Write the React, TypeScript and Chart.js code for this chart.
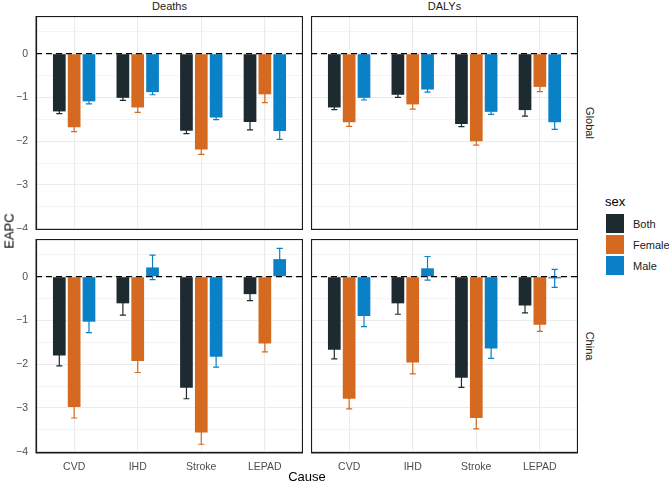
import React, { useEffect, useRef } from 'react';
import { Chart, registerables } from 'chart.js';

Chart.register(...registerables);

// ---------- data ----------
const causes = ['CVD', 'IHD', 'Stroke', 'LEPAD'];
const sexes = ['Both', 'Female', 'Male'];
const sexColors = ['#1D2B31', '#D4691F', '#0A80C6'];
const yTickValues = [-4, -3.5, -3, -2.5, -2, -1.5, -1, -0.5, 0, 0.5];

// Global – Deaths (EAPC and half-width of 95% CI)
const globalDeathsBoth = [-1.32, -1.01, -1.76, -1.56];
const globalDeathsBothErr = [0.05, 0.06, 0.07, 0.18];
const globalDeathsFemale = [-1.68, -1.23, -2.19, -0.93];
const globalDeathsFemaleErr = [0.1, 0.11, 0.11, 0.19];
const globalDeathsMale = [-1.09, -0.88, -1.46, -1.77];
const globalDeathsMaleErr = [0.06, 0.06, 0.05, 0.19];

// Global – DALYs
const globalDalysBoth = [-1.23, -0.94, -1.61, -1.29];
const globalDalysBothErr = [0.05, 0.06, 0.06, 0.14];
const globalDalysFemale = [-1.57, -1.16, -2.0, -0.76];
const globalDalysFemaleErr = [0.09, 0.11, 0.09, 0.11];
const globalDalysMale = [-1.01, -0.82, -1.33, -1.57];
const globalDalysMaleErr = [0.05, 0.06, 0.06, 0.16];

// China – Deaths
const chinaDeathsBoth = [-1.8, -0.61, -2.54, -0.4];
const chinaDeathsBothErr = [0.24, 0.27, 0.25, 0.15];
const chinaDeathsFemale = [-2.98, -1.93, -3.56, -1.53];
const chinaDeathsFemaleErr = [0.25, 0.26, 0.27, 0.19];
const chinaDeathsMale = [-1.03, 0.21, -1.83, 0.4];
const chinaDeathsMaleErr = [0.25, 0.28, 0.24, 0.245];

// China – DALYs
const chinaDalysBoth = [-1.67, -0.61, -2.31, -0.66];
const chinaDalysBothErr = [0.21, 0.25, 0.22, 0.17];
const chinaDalysFemale = [-2.79, -1.96, -3.23, -1.1];
const chinaDalysFemaleErr = [0.23, 0.26, 0.25, 0.15];
const chinaDalysMale = [-0.9, 0.19, -1.64, -0.04];
const chinaDalysMaleErr = [0.24, 0.27, 0.23, 0.205];

// ---------- layout constants ----------
const Y_MIN = -4.03;
const Y_MAX = 0.86;
const FONT = '"Liberation Sans", Arial, Helvetica, sans-serif';
const GRID = '#EBEBEB';
const TICK_COLOR = '#4D4D4D';

const PLOT_W = 267;
const PLOT_H = 214;
const COL_LEFT = [36, 311];
const ROW_TOP = [16, 239];
const Y_AXIS_W = 36;
const X_AXIS_H = 22;

type PanelProps = {
  values: number[][];
  errs: number[][];
  col: number;
  row: number;
};

function fmtTick(v: number) {
  if (!Number.isInteger(v)) return '';
  return v < 0 ? '\u2212' + Math.abs(v) : String(v);
}

function zeroPad(a: any) {
  a.paddingTop = 0;
  a.paddingBottom = 0;
  a.paddingLeft = 0;
  a.paddingRight = 0;
}

function Panel({ values, errs, col, row }: PanelProps) {
  const ref = useRef<HTMLCanvasElement>(null);
  const showY = col === 0;
  const showX = row === 1;
  const axisW = showY ? Y_AXIS_W : 0;
  const axisH = showX ? X_AXIS_H : 0;
  const cw = PLOT_W + axisW;
  const ch = PLOT_H + axisH;
  const left = COL_LEFT[col] - axisW;
  const top = ROW_TOP[row];

  useEffect(() => {
    const panelPlugin = {
      id: 'panelDecor',
      beforeDatasetsDraw(chart: any) {
        const ctx = chart.ctx;
        const ys = chart.scales.y;
        ctx.save();
        chart.data.datasets.forEach((ds: any, di: number) => {
          const meta = chart.getDatasetMeta(di);
          meta.data.forEach((bar: any, i: number) => {
            const v = values[di][i];
            const e = errs[di][i];
            const x = bar.x;
            const y1 = ys.getPixelForValue(v - e);
            const y2 = ys.getPixelForValue(v + e);
            const half = bar.width * 0.24;
            ctx.strokeStyle = sexColors[di];
            ctx.lineWidth = 1.2;
            ctx.beginPath();
            ctx.moveTo(x, y1);
            ctx.lineTo(x, y2);
            ctx.moveTo(x - half, y1);
            ctx.lineTo(x + half, y1);
            ctx.moveTo(x - half, y2);
            ctx.lineTo(x + half, y2);
            ctx.stroke();
          });
        });
        ctx.restore();
      },
      afterDatasetsDraw(chart: any) {
        const ctx = chart.ctx;
        const a = chart.chartArea;
        const y0 = chart.scales.y.getPixelForValue(0);
        ctx.save();
        ctx.strokeStyle = '#000';
        ctx.lineWidth = 1.3;
        ctx.setLineDash([6, 4]);
        ctx.beginPath();
        ctx.moveTo(a.left, y0);
        ctx.lineTo(a.right, y0);
        ctx.stroke();
        ctx.setLineDash([]);
        ctx.strokeStyle = '#1A1A1A';
        ctx.lineWidth = 1.6;
        ctx.strokeRect(a.left + 0.3, a.top + 0.3, a.right - a.left - 0.6, a.bottom - a.top - 0.6);
        ctx.restore();
      },
    };

    const chart = new Chart(ref.current as HTMLCanvasElement, {
      type: 'bar',
      data: {
        datasets: sexes.map((s, k) => ({
          label: s,
          data: values[k].map((v, i) => ({ x: i + 1, y: v })),
          backgroundColor: sexColors[k],
          borderWidth: 0,
          categoryPercentage: 0.7,
          barPercentage: 0.857,
        })),
      } as any,
      options: {
        responsive: false,
        maintainAspectRatio: false,
        animation: false,
        layout: { padding: 0 },
        plugins: {
          legend: { display: false },
          tooltip: { enabled: false },
        },
        scales: {
          x: {
            type: 'linear',
            min: 0.4,
            max: 4.6,
            offset: false,
            afterBuildTicks: (a: any) => {
              a.ticks = causes.map((_, i) => ({ value: i + 1 }));
            },
            afterFit: (a: any) => {
              a.height = axisH;
              zeroPad(a);
            },
            grid: { color: GRID, lineWidth: 1.1, drawTicks: false, offset: false },
            border: { display: false },
            ticks: {
              display: showX,
              autoSkip: false,
              maxRotation: 0,
              padding: 7.5,
              color: TICK_COLOR,
              font: { family: FONT, size: 10.5 },
              callback: (v: any) => causes[Math.round(Number(v)) - 1] ?? '',
            },
          },
          y: {
            type: 'linear',
            min: Y_MIN,
            max: Y_MAX,
            afterBuildTicks: (a: any) => {
              a.ticks = yTickValues.map((value) => ({ value }));
            },
            afterFit: (a: any) => {
              a.width = axisW;
              zeroPad(a);
            },
            grid: {
              color: GRID,
              lineWidth: (c: any) => (Number.isInteger(c.tick?.value) ? 1.1 : 0.55),
              drawTicks: false,
            },
            border: { display: false },
            ticks: {
              display: showY,
              autoSkip: false,
              padding: 8,
              color: TICK_COLOR,
              font: { family: FONT, size: 10.5 },
              callback: (v: any) => fmtTick(Number(v)),
            },
          },
        },
      } as any,
      plugins: [panelPlugin],
    });
    return () => chart.destroy();
  }, []);

  return (
    <canvas
      ref={ref}
      width={cw}
      height={ch}
      style={{ position: 'absolute', left, top, width: cw, height: ch }}
    />
  );
}

type TextProps = {
  x: number;
  y: number;
  text: string;
  size: number;
  color?: string;
  rotate?: number;
  align?: 'center' | 'left';
};

function Label({ x, y, text, size, color = '#1A1A1A', rotate = 0, align = 'center' }: TextProps) {
  const tx = align === 'center' ? '-50%' : '0';
  return (
    <div
      style={{
        position: 'absolute',
        left: x,
        top: y,
        transform: `translate(${tx}, -50%) rotate(${rotate}deg)`,
        fontFamily: FONT,
        fontSize: size,
        color,
        whiteSpace: 'nowrap',
        lineHeight: 1,
      }}
    >
      {text}
    </div>
  );
}

export default function App() {
  const panels = [
    {
      col: 0,
      row: 0,
      values: [globalDeathsBoth, globalDeathsFemale, globalDeathsMale],
      errs: [globalDeathsBothErr, globalDeathsFemaleErr, globalDeathsMaleErr],
    },
    {
      col: 1,
      row: 0,
      values: [globalDalysBoth, globalDalysFemale, globalDalysMale],
      errs: [globalDalysBothErr, globalDalysFemaleErr, globalDalysMaleErr],
    },
    {
      col: 0,
      row: 1,
      values: [chinaDeathsBoth, chinaDeathsFemale, chinaDeathsMale],
      errs: [chinaDeathsBothErr, chinaDeathsFemaleErr, chinaDeathsMaleErr],
    },
    {
      col: 1,
      row: 1,
      values: [chinaDalysBoth, chinaDalysFemale, chinaDalysMale],
      errs: [chinaDalysBothErr, chinaDalysFemaleErr, chinaDalysMaleErr],
    },
  ];
  const legendTop = [214, 235, 256];

  return (
    <div
      style={{
        position: 'absolute',
        left: 0,
        top: 0,
        width: 669,
        height: 485,
        background: '#FFFFFF',
        overflow: 'hidden',
      }}
    >
      {panels.map((p) => (
        <Panel key={`${p.col}-${p.row}`} {...p} />
      ))}

      {/* strip labels */}
      <Label x={COL_LEFT[0] + PLOT_W / 2} y={6} text="Deaths" size={11} />
      <Label x={COL_LEFT[1] + PLOT_W / 2} y={6} text="DALYs" size={11} />
      <Label x={588.5} y={ROW_TOP[0] + PLOT_H / 2} text="Global" size={11} rotate={90} />
      <Label x={588.5} y={ROW_TOP[1] + PLOT_H / 2} text="China" size={11} rotate={90} />

      {/* axis titles */}
      <Label x={9} y={231} text="EAPC" size={13} color="#000" rotate={-90} />
      <Label x={307} y={476} text="Cause" size={13} color="#000" />

      {/* legend */}
      <Label x={605} y={201} text="sex" size={13} color="#000" align="left" />
      {sexes.map((s, k) => (
        <React.Fragment key={s}>
          <div
            style={{
              position: 'absolute',
              left: 606,
              top: legendTop[k],
              width: 18,
              height: 19,
              background: sexColors[k],
            }}
          />
          <Label x={633} y={legendTop[k] + 10} text={s} size={11} color="#1A1A1A" align="left" />
        </React.Fragment>
      ))}
    </div>
  );
}
